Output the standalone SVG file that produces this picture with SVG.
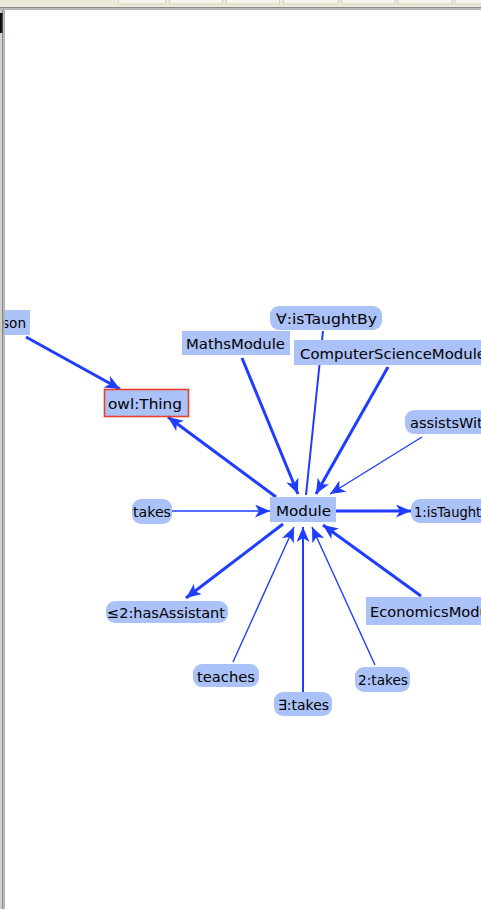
<svg xmlns="http://www.w3.org/2000/svg" width="481" height="909" viewBox="0 0 481 909">
<style>
.n{fill:#abc2f8}
.t{font-family:"DejaVu Sans","Liberation Sans",sans-serif;font-size:14px;fill:#000}
.e{stroke:#1f3dff;fill:none}
.k{stroke-width:3}
.h{stroke-width:1.4}
.m{stroke-width:2}
</style>
<defs>
<marker id="a" markerUnits="userSpaceOnUse" markerWidth="16" markerHeight="13" refX="15" refY="6.5" orient="auto"><path d="M0,0L15,6.5L0,13L4,6.5Z" fill="#1f3dff"/></marker>
</defs>
<rect x="0" y="0" width="481" height="909" fill="#fff"/>
<g id="frame">
<rect x="0" y="0" width="481" height="7" fill="#ece9d8"/>
<g fill="#f6f4ec" stroke="#cfccbc" stroke-width="0.8">
<rect x="118.5" y="-2" width="47" height="6"/><rect x="169.5" y="-2" width="53" height="6"/><rect x="226.5" y="-2" width="53" height="6"/><rect x="283.5" y="-2" width="55" height="6"/><rect x="342" y="-2" width="53" height="6"/><rect x="398" y="-2" width="54" height="6"/><rect x="455" y="-2" width="30" height="6"/>
</g>
<rect x="0" y="7" width="481" height="1.5" fill="#8a8a8a"/>
<rect x="0" y="8.5" width="481" height="1.5" fill="#b5b5b5"/>
<rect x="0" y="10" width="2" height="899" fill="#d4d0c8"/>
<rect x="2" y="10" width="1.5" height="899" fill="#8a8a8a"/>
<rect x="3.5" y="10" width="1.5" height="899" fill="#b5b5b5"/>
<rect x="0" y="13" width="2.5" height="20" fill="#111"/>
</g>
<g id="connectors">
<line class="e k" x1="26" y1="337" x2="120" y2="389" marker-end="url(#a)"/>
<line class="e k" x1="276" y1="497" x2="168" y2="417" marker-end="url(#a)"/>
<line class="e k" x1="242" y1="358" x2="298" y2="494" marker-end="url(#a)"/>
<line class="e m" x1="323" y1="331" x2="306" y2="495"/>
<line class="e k" x1="388" y1="367" x2="316" y2="494" marker-end="url(#a)"/>
<line class="e h" x1="422" y1="437" x2="330" y2="494" marker-end="url(#a)"/>
<line class="e h" x1="172" y1="511" x2="270" y2="511" marker-end="url(#a)"/>
<line class="e k" x1="336" y1="511" x2="411" y2="511" marker-end="url(#a)"/>
<line class="e k" x1="283" y1="524" x2="186" y2="598" marker-end="url(#a)"/>
<line class="e h" x1="233" y1="662" x2="294" y2="527" marker-end="url(#a)"/>
<line class="e m" x1="303" y1="692" x2="303" y2="527" marker-end="url(#a)"/>
<line class="e h" x1="375" y1="665" x2="312" y2="527" marker-end="url(#a)"/>
<line class="e k" x1="421" y1="596" x2="323" y2="525" marker-end="url(#a)"/>
</g>
<g id="n-person"><rect class="n" x="0" y="310" width="30" height="25"/><text class="t" x="2" y="328" textLength="24" lengthAdjust="spacingAndGlyphs">son</text></g>
<g id="n-owlthing"><rect class="n" x="104.5" y="389.5" width="84" height="27" stroke="#e8402a" stroke-width="1.6"/><text class="t" x="108" y="409" textLength="74" lengthAdjust="spacingAndGlyphs">owl:Thing</text></g>
<g id="n-isTaughtBy-all"><rect class="n" x="270" y="306" width="112" height="24" rx="9"/><text class="t" x="276" y="324" textLength="101" lengthAdjust="spacingAndGlyphs">∀:isTaughtBy</text></g>
<g id="n-maths"><rect class="n" x="182" y="331" width="108" height="24"/><text class="t" x="186" y="349" textLength="99" lengthAdjust="spacingAndGlyphs">MathsModule</text></g>
<g id="n-cs"><rect class="n" x="294" y="340" width="200" height="25"/><text class="t" x="300" y="359" textLength="186" lengthAdjust="spacingAndGlyphs">ComputerScienceModule</text></g>
<g id="n-assists"><rect class="n" x="405" y="410" width="90" height="24" rx="9"/><text class="t" x="410" y="428" textLength="82" lengthAdjust="spacingAndGlyphs">assistsWith</text></g>
<g id="n-takes"><rect class="n" x="132" y="499" width="40" height="25" rx="9"/><text class="t" x="133" y="517" textLength="38" lengthAdjust="spacingAndGlyphs">takes</text></g>
<g id="n-module"><rect class="n" x="270" y="497" width="66" height="25"/><text class="t" x="276" y="516" textLength="55" lengthAdjust="spacingAndGlyphs">Module</text></g>
<g id="n-isTaughtBy-1"><rect class="n" x="411" y="499" width="90" height="24" rx="9"/><text class="t" x="414" y="517" textLength="84" lengthAdjust="spacingAndGlyphs">1:isTaughtBy</text></g>
<g id="n-hasAssistant"><rect class="n" x="106" y="601" width="122" height="22" rx="9"/><text class="t" x="107" y="618" textLength="118" lengthAdjust="spacingAndGlyphs">≤2:hasAssistant</text></g>
<g id="n-econ"><rect class="n" x="366" y="597" width="150" height="28"/><text class="t" x="370" y="617" textLength="132" lengthAdjust="spacingAndGlyphs">EconomicsModule</text></g>
<g id="n-teaches"><rect class="n" x="193" y="664" width="66" height="23" rx="9"/><text class="t" x="197" y="682" textLength="58" lengthAdjust="spacingAndGlyphs">teaches</text></g>
<g id="n-takes-some"><rect class="n" x="274" y="692" width="58" height="24" rx="9"/><text class="t" x="278" y="710" textLength="51" lengthAdjust="spacingAndGlyphs">∃:takes</text></g>
<g id="n-takes-2"><rect class="n" x="355" y="667" width="55" height="25" rx="9"/><text class="t" x="358" y="685" textLength="50" lengthAdjust="spacingAndGlyphs">2:takes</text></g>
<g id="frame-left">
<rect x="0" y="310" width="2" height="25" fill="#d4d0c8"/>
<rect x="2" y="310" width="1.5" height="25" fill="#8a8a8a"/>
<rect x="3.5" y="310" width="1.5" height="25" fill="#b5b5b5"/>
</g>
</svg>
